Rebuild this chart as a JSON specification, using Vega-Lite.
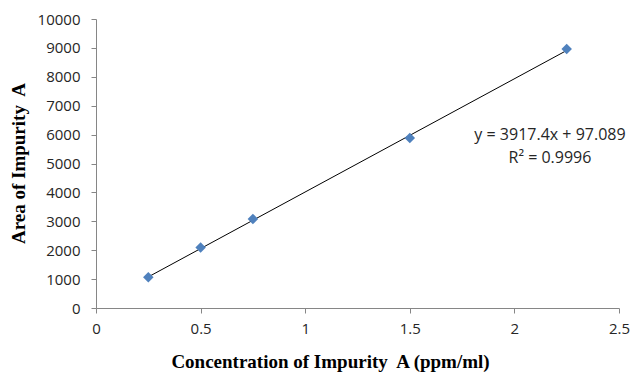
{
  "$schema": "https://vega.github.io/schema/vega-lite/v6.json",
  "width": 523,
  "height": 289,
  "autosize": {"type": "none"},
  "padding": {"left": 96, "top": 19, "right": 12, "bottom": 64},
  "background": "white",
  "config": {"view": {"stroke": null}},
  "datasets": {
    "points": [
      {"conc": 0.25, "area": 1060},
      {"conc": 0.5, "area": 2095},
      {"conc": 0.75, "area": 3080},
      {"conc": 1.5, "area": 5880},
      {"conc": 2.25, "area": 8960}
    ],
    "trend": [
      {"conc": 0.25, "area": 1076.4},
      {"conc": 2.25, "area": 8911.2}
    ],
    "labels": [
      {"conc": 2.17, "area": 6000, "text": "y = 3917.4x + 97.089"},
      {"conc": 2.17, "area": 5190, "text": "R² = 0.9996"}
    ]
  },
  "encoding": {
    "x": {
      "field": "conc",
      "type": "quantitative",
      "scale": {"domain": [0, 2.5], "nice": false},
      "axis": {
        "title": "Concentration of Impurity\u00a0 A (ppm/ml)",
        "values": [0, 0.5, 1, 1.5, 2, 2.5],
        "format": "~g",
        "grid": false,
        "domainColor": "#868686",
        "tickColor": "#868686",
        "tickSize": 5,
        "labelPadding": 8,
        "labelFont": "Open Sans",
        "labelFontSize": 15,
        "labelColor": "#262626",
        "labelFlush": false,
        "titleFont": "Liberation Serif",
        "titleFontSize": 19,
        "titleFontWeight": "bold",
        "titleColor": "#000000",
        "titleX": 234,
        "titleY": 59,
        "titleAlign": "center",
        "titleBaseline": "alphabetic"
      }
    },
    "y": {
      "field": "area",
      "type": "quantitative",
      "scale": {"domain": [0, 10000], "nice": false},
      "axis": {
        "title": "Area of Impurity\u00a0 A",
        "values": [0, 1000, 2000, 3000, 4000, 5000, 6000, 7000, 8000, 9000, 10000],
        "format": "d",
        "grid": false,
        "domainColor": "#868686",
        "tickColor": "#868686",
        "tickSize": 5,
        "labelPadding": 11,
        "labelFont": "Open Sans",
        "labelFontSize": 15,
        "labelColor": "#262626",
        "labelFlush": false,
        "titleFont": "Liberation Serif",
        "titleFontSize": 19,
        "titleFontWeight": "bold",
        "titleColor": "#000000",
        "titleX": -78,
        "titleY": 144,
        "titleAngle": -90,
        "titleAlign": "center",
        "titleBaseline": "middle"
      }
    }
  },
  "layer": [
    {
      "data": {"name": "trend"},
      "mark": {"type": "line", "color": "#000000", "strokeWidth": 1},
      "encoding": {}
    },
    {
      "data": {"name": "points"},
      "mark": {"type": "point", "shape": "diamond", "filled": true, "size": 110, "color": "#4F81BD", "opacity": 1},
      "encoding": {}
    },
    {
      "data": {"name": "labels"},
      "mark": {"type": "text", "font": "Open Sans", "fontSize": 16, "color": "#262626", "align": "center", "baseline": "middle"},
      "encoding": {"text": {"field": "text", "type": "nominal"}}
    }
  ]
}
